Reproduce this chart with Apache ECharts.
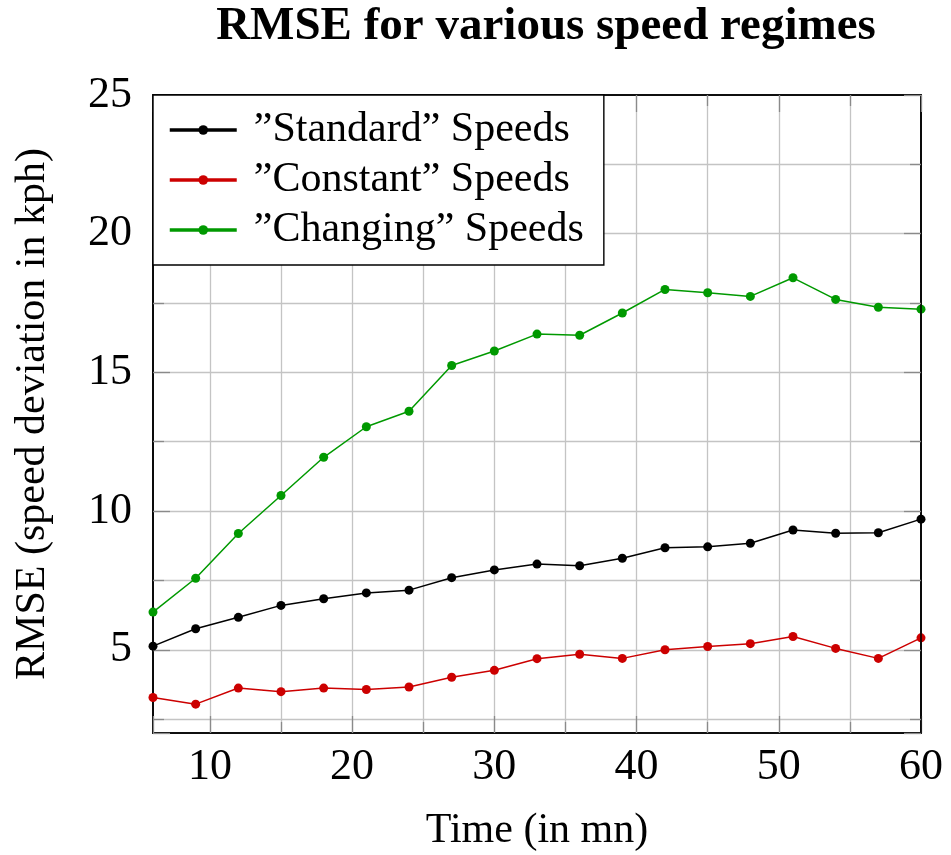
<!DOCTYPE html>
<html>
<head>
<meta charset="utf-8">
<script src="https://cdn.jsdelivr.net/npm/echarts@6/dist/echarts.min.js"></script>
<style>html,body{margin:0;padding:0;background:#fff}#c{width:951px;height:855px}</style>
</head>
<body>
<div id="c"></div>
<script>
const times = [6, 9, 12, 15, 18, 21, 24, 27, 30, 33, 36, 39, 42, 45, 48, 51, 54, 57, 60];
const standardSpeeds = [5.13, 5.76, 6.17, 6.60, 6.84, 7.05, 7.15, 7.60, 7.88, 8.09, 8.03, 8.30, 8.68, 8.71, 8.84, 9.32, 9.20, 9.22, 9.71];
const constantSpeeds = [3.28, 3.04, 3.62, 3.49, 3.62, 3.57, 3.66, 4.01, 4.26, 4.68, 4.84, 4.69, 5.00, 5.12, 5.22, 5.48, 5.05, 4.69, 5.43];
const changingSpeeds = [6.36, 7.58, 9.19, 10.56, 11.94, 13.04, 13.60, 15.25, 15.77, 16.38, 16.34, 17.14, 17.99, 17.87, 17.74, 18.41, 17.63, 17.35, 17.28];
const seriesNames = ['\u201DStandard\u201D Speeds', '\u201DConstant\u201D Speeds', '\u201DChanging\u201D Speeds'];
const seriesColors = ['#000000', '#cc0000', '#009900'];
const titleText = 'RMSE for various speed regimes';
const xName = 'Time (in mn)';
const yName = 'RMSE (speed deviation in kph)';

const FONT = "'Liberation Serif', 'DejaVu Serif', serif";
const gridColor = '#c4c4c4';
const tickColor = '#8a8a8a';

function pairs(vals) { return times.map((t, i) => [t, vals[i]]); }

function axisCommon(extra) {
  return Object.assign({
    type: 'value',
    z: 1,
    axisLine: { show: true, onZero: false, lineStyle: { color: '#000', width: 1.6 } },
    axisTick: { show: true, inside: true, length: 17, lineStyle: { color: tickColor, width: 1.3 } },
    minorTick: { show: true, splitNumber: 2, length: 11, lineStyle: { color: tickColor, width: 1.3 } },
    splitLine: { show: false },
    minorSplitLine: { show: false },
    axisLabel: { show: false }
  }, extra);
}

const gridSplit = { show: true, showMinLine: false, showMaxLine: false, lineStyle: { color: gridColor, width: 1.3 } };
const gridMinor = { show: true, lineStyle: { color: gridColor, width: 1.3 } };

const chart = echarts.init(document.getElementById('c'), null, { renderer: 'canvas' });
chart.setOption({
  backgroundColor: '#ffffff',
  animation: false,
  title: {
    text: titleText,
    left: 541,
    textAlign: 'center',
    top: -2,
    textStyle: { fontFamily: FONT, fontSize: 47, fontWeight: 'bold', color: '#000' }
  },
  grid: {
    left: 153, right: 30, top: 95, bottom: 122,
    show: true, borderColor: '#000', borderWidth: 1.6, backgroundColor: 'transparent',
    outerBoundsMode: 'none'
  },
  legend: {
    orient: 'vertical',
    left: 153, top: 95,
    z: 10,
    backgroundColor: '#ffffff',
    borderColor: '#000', borderWidth: 1.4,
    padding: [10, 20, 10, 15],
    itemWidth: 67, itemHeight: 12, itemGap: 0,
    lineStyle: { width: 3.5 },
    textStyle: { fontFamily: FONT, fontSize: 42, color: '#000', lineHeight: 50, padding: [0, 0, 0, 12] },
    data: seriesNames
  },
  xAxis: [
    axisCommon({
      position: 'bottom', min: 6, max: 60, z: 0,
      name: xName, nameLocation: 'middle', nameGap: 77,
      nameTextStyle: { fontFamily: FONT, fontSize: 42, color: '#000' },
      splitLine: gridSplit,
      minorSplitLine: gridMinor,
      axisLabel: { show: true, showMinLabel: false, margin: 12, fontFamily: FONT, fontSize: 44, color: '#000' }
    }),
    axisCommon({ position: 'top', min: 6, max: 60, z: 5 })
  ],
  yAxis: [
    axisCommon({
      position: 'left', min: 2, max: 25, z: 0,
      name: yName, nameLocation: 'middle', nameGap: 99,
      nameTextStyle: { fontFamily: FONT, fontSize: 42, color: '#000' },
      splitLine: gridSplit,
      minorSplitLine: gridMinor,
      axisLabel: { show: true, showMinLabel: false, margin: 21, fontFamily: FONT, fontSize: 44, color: '#000' }
    }),
    axisCommon({ position: 'right', min: 2, max: 25, z: 5 })
  ],
  series: [standardSpeeds, constantSpeeds, changingSpeeds].map((vals, i) => ({
    name: seriesNames[i],
    type: 'line',
    data: pairs(vals),
    symbol: 'circle',
    symbolSize: 9,
    showSymbol: true,
    clip: false,
    color: seriesColors[i],
    itemStyle: { color: seriesColors[i] },
    lineStyle: { color: seriesColors[i], width: 1.5 },
    z: 3
  }))
});
</script>
</body>
</html>
